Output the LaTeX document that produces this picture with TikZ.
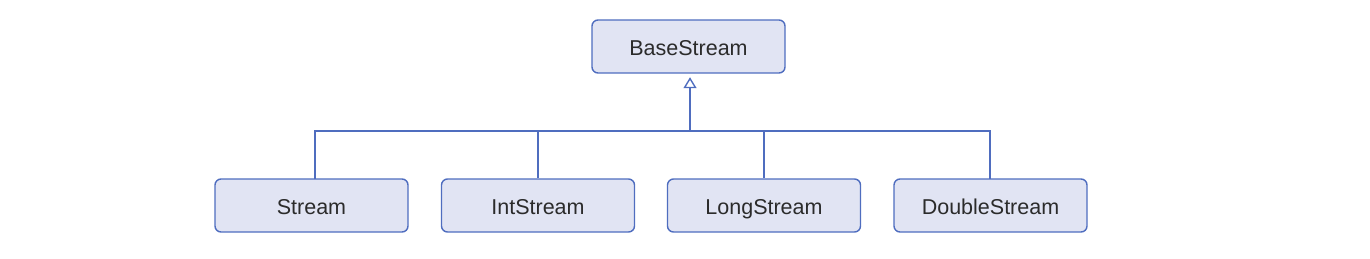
\documentclass[tikz,border=0pt]{standalone}
\usepackage{fontspec}
\setmainfont{Liberation Sans}
\usetikzlibrary{arrows.meta}
\definecolor{edge}{HTML}{4F6DBF}
\definecolor{boxfill}{HTML}{E1E4F3}
\definecolor{txt}{HTML}{2B2B2B}
\begin{document}
\begin{tikzpicture}[x=1pt,y=-1pt,
  cls/.style={draw=edge, fill=boxfill, line width=1.4pt, rounded corners=6pt,
    minimum width=193pt, minimum height=53pt, inner sep=0pt,
    text height=17.5pt, text depth=0pt,
    font=\fontsize{21.5}{24}\selectfont, text=txt},
  conn/.style={draw=edge, line width=1.4pt}]
\useasboundingbox (0,0) rectangle (1370,258);
\node[cls] (b) at (688.5,46.5) {BaseStream};
\node[cls] (s) at (311.5,205.5) {Stream};
\node[cls] (i) at (538,205.5) {IntStream};
\node[cls] (l) at (764,205.5) {LongStream};
\node[cls] (d) at (990.5,205.5) {DoubleStream};
\coordinate (bar) at (690,131);
\coordinate (sx) at (315,179);
\coordinate (dx) at (990,179);
\draw[conn] (sx) |- (dx |- bar) -- (dx);
\draw[conn] (i.north) -- (i.north |- bar);
\draw[conn] (l.north) -- (l.north |- bar);
\draw[conn, -{Triangle[open, length=11pt, width=13pt]}, shorten >=3.5pt] (bar) -- (bar |- b.south);
\end{tikzpicture}
\end{document}
